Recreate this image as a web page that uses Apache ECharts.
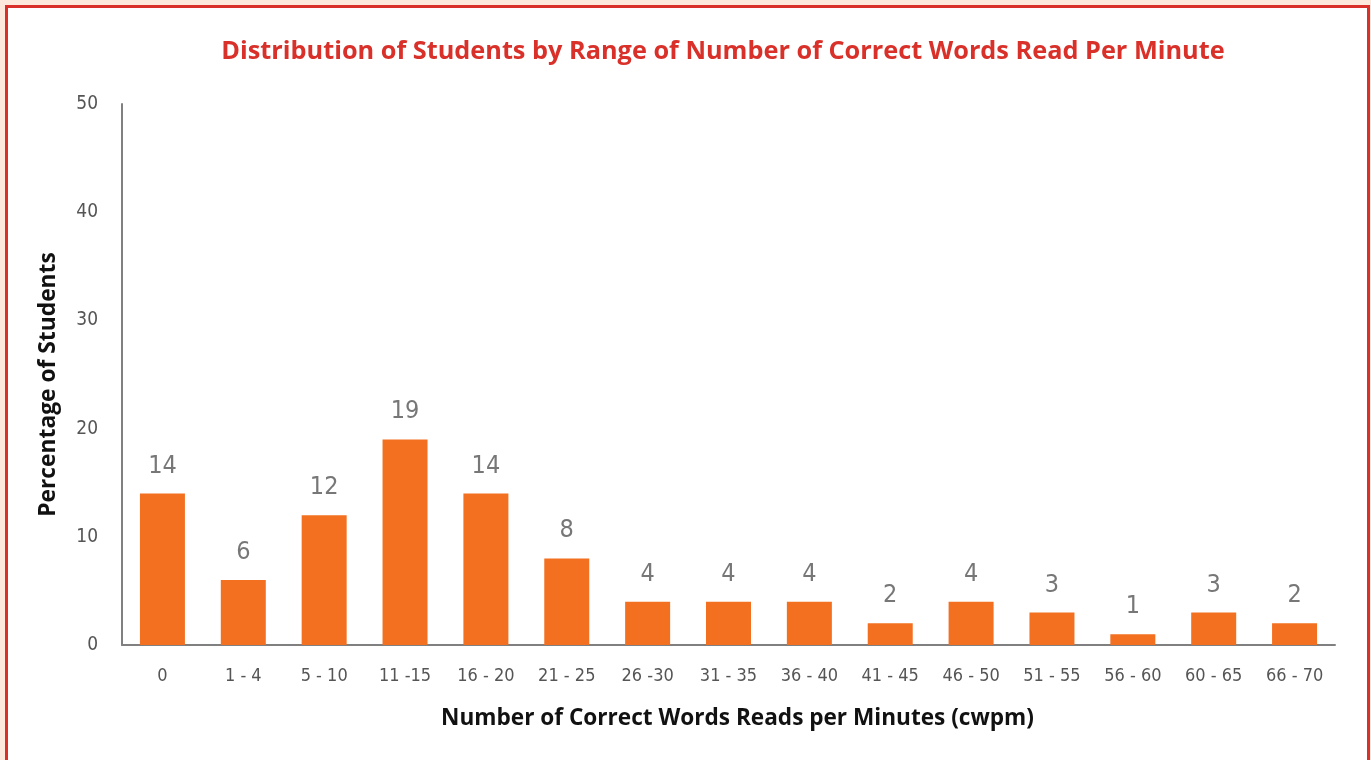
<!DOCTYPE html>
<html><head><meta charset="utf-8">
<script src="https://cdn.jsdelivr.net/npm/echarts@6/dist/echarts.min.js"></script>
<style>
html,body{margin:0;padding:0;background:#fde8dc;width:1371px;height:760px;overflow:hidden;}
#frame{position:absolute;left:5px;top:5px;width:1359px;height:800px;border:3px solid #d9312a;background:#fff;}
#chart{position:absolute;left:0;top:0;width:1371px;height:760px;}
</style></head>
<body>
<div id="frame"></div>
<div id="chart"></div>
<script>
const categories = ['0','1 - 4','5 - 10','11 -15','16 - 20','21 - 25','26 -30','31 - 35','36 - 40','41 - 45','46 - 50','51 - 55','56 - 60','60 - 65','66 - 70'];
const values = [14,6,12,19,14,8,4,4,4,2,4,3,1,3,2];
const titleText = 'Distribution of Students by Range of Number of Correct Words Read Per Minute';
const xName = 'Number of Correct Words Reads per Minutes (cwpm)';
const yName = 'Percentage of Students';

const chart = echarts.init(document.getElementById('chart'), null, {renderer:'canvas'});
const narrow = '"DejaVu Sans Condensed", "Liberation Sans Narrow", "Open Sans", sans-serif';
chart.setOption({
  animation:false,
  backgroundColor:'transparent',
  title:{text:titleText,left:718,top:34,textAlign:'center',
    textStyle:{color:'#d9312a',fontSize:25.3,fontWeight:'bold',fontFamily:'"Open Sans", sans-serif'}},
  grid:{left:122,right:36,top:104,bottom:115,containLabel:false},
  xAxis:{type:'category',data:categories,
    name:xName,nameLocation:'middle',nameGap:62,
    nameTextStyle:{color:'#111',fontSize:22.6,fontWeight:'bold',fontFamily:'"Open Sans", sans-serif',padding:[0,0,0,18]},
    axisLine:{lineStyle:{color:'#808080',width:2}},axisTick:{show:false},
    axisLabel:{color:'#555',fontSize:18,margin:22,fontFamily:narrow,interval:0}},
  yAxis:{type:'value',min:0,max:50,interval:10,
    name:yName,nameLocation:'middle',nameGap:62,nameRotate:90,
    nameTextStyle:{color:'#111',fontSize:22.8,fontWeight:'bold',fontFamily:'"Open Sans", sans-serif',padding:[0,20,0,0]},
    axisLine:{show:true,lineStyle:{color:'#808080',width:2}},axisTick:{show:false},
    splitLine:{show:false},
    axisLabel:{color:'#555',fontSize:19,margin:24,fontFamily:narrow}},
  series:[{type:'bar',data:values,barWidth:45,
    itemStyle:{color:'#f37021'},
    label:{show:true,position:'top',distance:15,color:'#777',fontSize:25,fontFamily:narrow}}]
});
</script>
</body></html>
